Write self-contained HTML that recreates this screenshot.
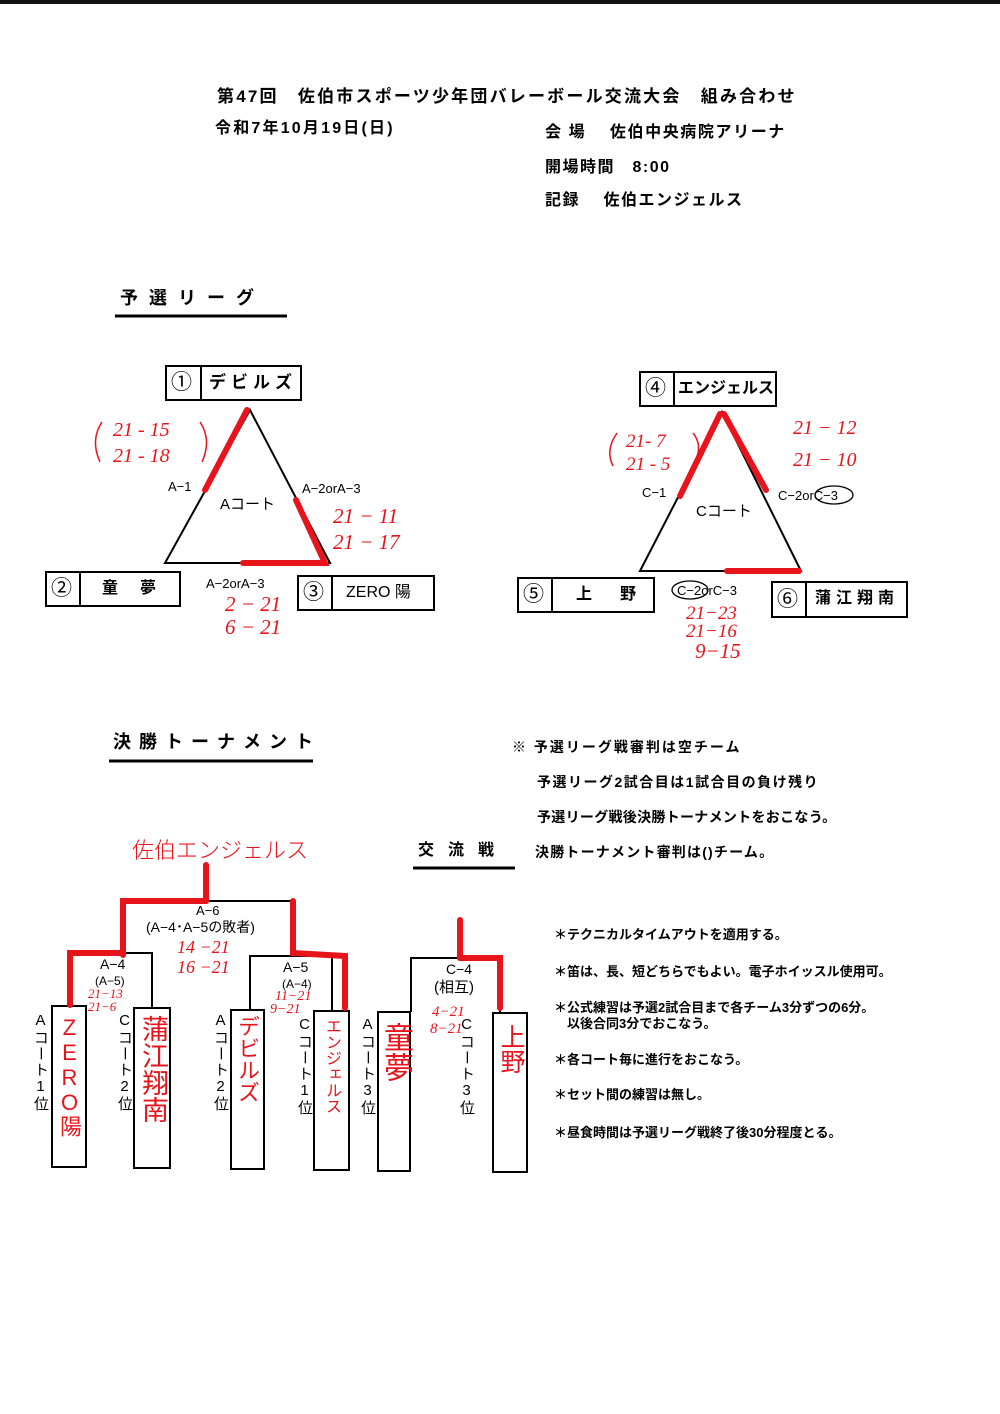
<!DOCTYPE html>
<html><head><meta charset="utf-8"><style>
body{margin:0;width:1000px;height:1414px;background:#fff;position:relative;overflow:hidden;font-family:"Liberation Sans","Noto Sans CJK JP",sans-serif;color:#000}
.t{position:absolute;white-space:nowrap;font-weight:bold;line-height:1}
.r{position:absolute;white-space:nowrap;color:#e8141c;font-family:"Liberation Serif","Noto Sans CJK JP",serif;font-style:italic;line-height:1}
.v{position:absolute;writing-mode:vertical-rl;text-orientation:upright;font-size:15px;line-height:1;letter-spacing:1px}
.vr{position:absolute;writing-mode:vertical-rl;text-orientation:upright;color:#e8141c;line-height:1;letter-spacing:0}
svg{position:absolute;left:0;top:0}
</style></head><body>
<div style="position:absolute;left:0;top:0;width:1000px;height:4px;background:#111"></div>
<svg width="1000" height="1414">
<g fill="none" stroke="#000" stroke-width="2">
<line x1="115" y1="316" x2="287" y2="316" stroke-width="3"/>
<line x1="109" y1="761" x2="313" y2="761" stroke-width="3"/>
<line x1="413" y1="868" x2="515" y2="868" stroke-width="3"/>
<polygon points="250,410 165,563 330,563"/>
<polygon points="722,412 640,571 801,571"/>
<rect x="166" y="366" width="135" height="34"/><line x1="201" y1="366" x2="201" y2="400"/>
<rect x="46" y="572" width="134" height="34"/><line x1="80" y1="572" x2="80" y2="606"/>
<rect x="298" y="576" width="136" height="34"/><line x1="332" y1="576" x2="332" y2="610"/>
<rect x="640" y="372" width="136" height="34"/><line x1="674" y1="372" x2="674" y2="406"/>
<rect x="518" y="578" width="136" height="34"/><line x1="552" y1="578" x2="552" y2="612"/>
<rect x="772" y="582" width="135" height="35"/><line x1="806" y1="582" x2="806" y2="617"/>
<ellipse cx="834" cy="495" rx="19" ry="9" stroke-width="1.3"/>
<ellipse cx="690" cy="590" rx="18" ry="9" stroke-width="1.3"/>
<polyline points="123,955 123,901 293,901 293,953"/>
<polyline points="70,1005 70,953 152,953 152,1008"/>
<polyline points="250,1010 250,956 332,956 332,1011"/>
<polyline points="411,1012 411,958 500,958 500,1013"/>
<rect x="52" y="1006" width="34" height="161"/>
<rect x="134" y="1008" width="36" height="160"/>
<rect x="231" y="1010" width="33" height="159"/>
<rect x="314" y="1011" width="35" height="159"/>
<rect x="378" y="1012" width="32" height="159"/>
<rect x="493" y="1013" width="34" height="159"/>
</g>
<g fill="none" stroke="#e8141c" stroke-width="6" stroke-linecap="round">
<line x1="205" y1="490" x2="247" y2="410"/>
<polyline points="296,500 325,563 243,563"/>
<line x1="680" y1="496" x2="720" y2="414"/>
<line x1="724" y1="414" x2="766" y2="490"/>
<line x1="727" y1="571" x2="799" y2="571"/>
<line x1="206" y1="865" x2="206" y2="901"/>
<polyline points="123,955 123,901 206,901"/>
<polyline points="70,1005 70,953 123,953"/>
<polyline points="293,901 293,953 345,956 345,1008"/>
<line x1="460" y1="920" x2="460" y2="958"/>
<polyline points="460,958 500,958 500,1008"/>
</g>
<g fill="none" stroke="#e8141c" stroke-width="1.5">
<path d="M102 422 Q90 440 100 462"/><path d="M200 422 Q212 440 202 462"/>
<path d="M617 433 Q605 450 613 466"/><path d="M693 433 Q703 445 695 462"/>
</g>
</svg>
<div class="t" style="left:217px;top:88px;font-size:17px;letter-spacing:2.2px">第47回　佐伯市スポーツ少年団バレーボール交流大会　組み合わせ</div>
<div class="t" style="left:215px;top:121px;font-size:16px;letter-spacing:2.2px">令和7年10月19日(日)</div>
<div class="t" style="left:545px;top:125px;font-size:16px;letter-spacing:1.6px">会 場　 佐伯中央病院アリーナ</div>
<div class="t" style="left:545px;top:160px;font-size:16px;letter-spacing:1.5px">開場時間　8:00</div>
<div class="t" style="left:545px;top:193px;font-size:16px;letter-spacing:1.5px">記録　 佐伯エンジェルス</div>
<div class="t" style="left:120px;top:289px;font-size:18px;letter-spacing:11px">予選リーグ</div>
<div class="t" style="left:113px;top:733px;font-size:18px;letter-spacing:8px">決勝トーナメント</div>
<div class="t" style="left:418px;top:843px;font-size:16px;letter-spacing:14px">交流戦</div>

<div class="t" style="left:171px;top:372px;font-size:21px;font-weight:normal">①</div>
<div class="t" style="left:209px;top:374px;font-size:17px;letter-spacing:5px">デビルズ</div>
<div class="t" style="left:51px;top:578px;font-size:21px;font-weight:normal">②</div>
<div class="t" style="left:102px;top:581px;font-size:16px;letter-spacing:22px">童夢</div>
<div class="t" style="left:303px;top:582px;font-size:21px;font-weight:normal">③</div>
<div class="t" style="left:346px;top:585px;font-size:16px;font-weight:normal">ZERO 陽</div>
<div class="t" style="left:645px;top:378px;font-size:21px;font-weight:normal">④</div>
<div class="t" style="left:678px;top:381px;font-size:16px">エンジェルス</div>
<div class="t" style="left:523px;top:584px;font-size:21px;font-weight:normal">⑤</div>
<div class="t" style="left:576px;top:587px;font-size:16px;letter-spacing:28px">上野</div>
<div class="t" style="left:777px;top:589px;font-size:21px;font-weight:normal">⑥</div>
<div class="t" style="left:815px;top:591px;font-size:16px;letter-spacing:5px">蒲江翔南</div>

<div class="t" style="left:168px;top:480px;font-size:13px;font-weight:normal">A−1</div>
<div class="t" style="left:302px;top:482px;font-size:13px;font-weight:normal">A−2orA−3</div>
<div class="t" style="left:220px;top:497px;font-size:15px;font-weight:normal">Aコート</div>
<div class="t" style="left:206px;top:577px;font-size:13px;font-weight:normal">A−2orA−3</div>
<div class="t" style="left:642px;top:486px;font-size:13px;font-weight:normal">C−1</div>
<div class="t" style="left:778px;top:489px;font-size:13px;font-weight:normal">C−2orC−3</div>
<div class="t" style="left:696px;top:504px;font-size:15px;font-weight:normal">Cコート</div>
<div class="t" style="left:677px;top:584px;font-size:13px;font-weight:normal">C−2orC−3</div>

<div class="r" style="left:113px;top:420px;font-size:20px">21 - 15</div>
<div class="r" style="left:113px;top:446px;font-size:20px">21 - 18</div>
<div class="r" style="left:333px;top:506px;font-size:21px">21 − 11</div>
<div class="r" style="left:333px;top:532px;font-size:21px">21 − 17</div>
<div class="r" style="left:225px;top:594px;font-size:21px">2 − 21</div>
<div class="r" style="left:225px;top:617px;font-size:21px">6 − 21</div>
<div class="r" style="left:626px;top:432px;font-size:19px">21- 7</div>
<div class="r" style="left:626px;top:455px;font-size:19px">21 - 5</div>
<div class="r" style="left:793px;top:418px;font-size:20px">21 − 12</div>
<div class="r" style="left:793px;top:450px;font-size:20px">21 − 10</div>
<div class="r" style="left:686px;top:604px;font-size:19px">21−23</div>
<div class="r" style="left:686px;top:622px;font-size:19px">21−16</div>
<div class="r" style="left:695px;top:641px;font-size:21px">9−15</div>
<div class="r" style="left:132px;top:838px;font-size:22px;font-family:'Noto Sans CJK JP',sans-serif;font-style:normal;font-weight:300">佐伯エンジェルス</div>
<div class="r" style="left:177px;top:938px;font-size:18px">14 −21</div>
<div class="r" style="left:177px;top:958px;font-size:18px">16 −21</div>
<div class="r" style="left:88px;top:987px;font-size:13px">21−13</div>
<div class="r" style="left:88px;top:1000px;font-size:13px">21−6</div>
<div class="r" style="left:275px;top:990px;font-size:14px">11−21</div>
<div class="r" style="left:270px;top:1003px;font-size:14px">9−21</div>
<div class="r" style="left:432px;top:1005px;font-size:15px">4−21</div>
<div class="r" style="left:430px;top:1022px;font-size:15px">8−21</div>

<div class="t" style="left:196px;top:904px;font-size:13px;font-weight:normal">A−6</div>
<div class="t" style="left:146px;top:920px;font-size:14px;font-weight:normal">(A−4･A−5の敗者)</div>
<div class="t" style="left:100px;top:957px;font-size:14px;font-weight:normal">A−4</div>
<div class="t" style="left:95px;top:975px;font-size:12px;font-weight:normal">(A−5)</div>
<div class="t" style="left:283px;top:960px;font-size:14px;font-weight:normal">A−5</div>
<div class="t" style="left:282px;top:978px;font-size:12px;font-weight:normal">(A−4)</div>
<div class="t" style="left:446px;top:962px;font-size:14px;font-weight:normal">C−4</div>
<div class="t" style="left:434px;top:980px;font-size:15px;font-weight:normal">(相互)</div>

<div class="v" style="left:33px;top:1012px">Aコート1位</div>
<div class="v" style="left:117px;top:1012px">Cコート2位</div>
<div class="v" style="left:213px;top:1012px">Aコート2位</div>
<div class="v" style="left:297px;top:1016px">Cコート1位</div>
<div class="v" style="left:360px;top:1016px">Aコート3位</div>
<div class="v" style="left:459px;top:1016px">Cコート3位</div>
<div class="vr" style="left:58px;top:1015px;font-size:22px">ZERO陽</div>
<div class="vr" style="left:139px;top:1015px;font-size:27px">蒲江翔南</div>
<div class="vr" style="left:236px;top:1015px;font-size:22px">デビルズ</div>
<div class="vr" style="left:323px;top:1018px;font-size:16px">エンジェルス</div>
<div class="vr" style="left:380px;top:1022px;font-size:30px">童夢</div>
<div class="vr" style="left:498px;top:1024px;font-size:25px">上野</div>

<div class="t" style="left:512px;top:740px;font-size:14px;letter-spacing:2px">※ 予選リーグ戦審判は空チーム</div>
<div class="t" style="left:537px;top:775px;font-size:14px;letter-spacing:1.5px">予選リーグ2試合目は1試合目の負け残り</div>
<div class="t" style="left:537px;top:810px;font-size:14px;letter-spacing:0.3px">予選リーグ戦後決勝トーナメントをおこなう。</div>
<div class="t" style="left:535px;top:845px;font-size:14px;letter-spacing:1.2px">決勝トーナメント審判は()チーム。</div>
<div class="t" style="left:554px;top:928px;font-size:13px">＊テクニカルタイムアウトを適用する。</div>
<div class="t" style="left:554px;top:965px;font-size:13px">＊笛は、長、短どちらでもよい。電子ホイッスル使用可。</div>
<div class="t" style="left:554px;top:1001px;font-size:13px">＊公式練習は予選2試合目まで各チーム3分ずつの6分。</div>
<div class="t" style="left:567px;top:1017px;font-size:13px">以後合同3分でおこなう。</div>
<div class="t" style="left:554px;top:1053px;font-size:13px">＊各コート毎に進行をおこなう。</div>
<div class="t" style="left:554px;top:1088px;font-size:13px">＊セット間の練習は無し。</div>
<div class="t" style="left:554px;top:1126px;font-size:13px">＊昼食時間は予選リーグ戦終了後30分程度とる。</div>
</body></html>
